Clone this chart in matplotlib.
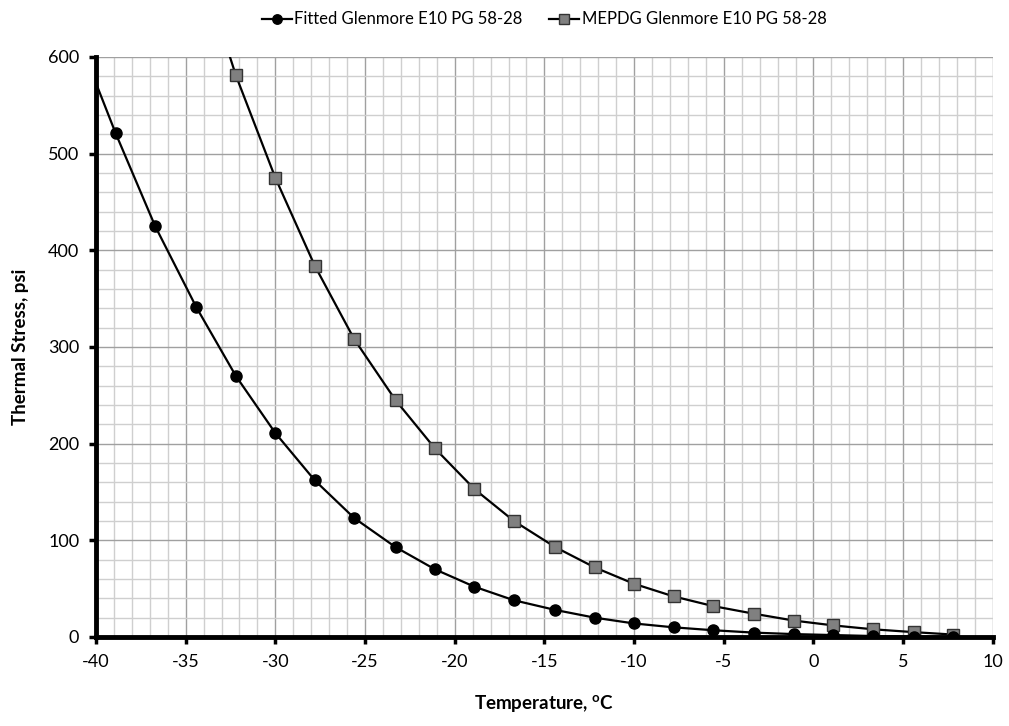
import matplotlib
matplotlib.use("Agg")
import matplotlib.pyplot as plt
from matplotlib.ticker import MultipleLocator

plt.rcParams["font.family"] = ["Lato", "DejaVu Sans"]
plt.rcParams["axes.unicode_minus"] = False

# temperatures (deg C), 4 deg F steps
temp_c = [-41.1, -38.9, -36.7, -34.4, -32.2, -30.0, -27.8, -25.6, -23.3, -21.1, -18.9,
          -16.7, -14.4, -12.2, -10.0, -7.8, -5.6, -3.3, -1.1, 1.1, 3.3, 5.6, 7.8]
fitted_psi = [625, 521, 425, 341, 270, 211, 162, 123, 93, 70, 52,
              38, 28, 20, 14, 10, 7, 4.5, 3, 2, 1, 0.5, 0.2]
mepdg_temp = [-34.4, -32.2, -30.0, -27.8, -25.6, -23.3, -21.1, -18.9, -16.7, -14.4,
              -12.2, -10.0, -7.8, -5.6, -3.3, -1.1, 1.1, 3.3, 5.6, 7.8]
mepdg_psi = [708, 581, 475, 384, 308, 245, 195, 153, 120, 93,
             72, 55, 42, 32, 24, 17, 12, 8, 5, 2.5]

fig = plt.figure(figsize=(10.09, 7.26), dpi=100)
ax = fig.add_axes([0.0951, 0.1226, 0.8889, 0.7989])

ax.plot(temp_c, fitted_psi, color="black", lw=1.6, marker="o", ms=8,
        mfc="black", mec="black", label="Fitted Glenmore E10 PG 58-28", zorder=4)
ax.plot(mepdg_temp, mepdg_psi, color="black", lw=1.6, marker="s", ms=8,
        mfc="#808080", mec="#333333", mew=1.0, label="MEPDG Glenmore E10 PG 58-28", zorder=3)

ax.set_xlim(-40, 10)
ax.set_ylim(0, 600)
ax.xaxis.set_major_locator(MultipleLocator(5))
ax.xaxis.set_minor_locator(MultipleLocator(1))
ax.yaxis.set_major_locator(MultipleLocator(100))
ax.yaxis.set_minor_locator(MultipleLocator(20))
ax.grid(which="major", color="#a0a0a0", lw=1.0)
ax.grid(which="minor", color="#cfcfcf", lw=1.0)
ax.set_axisbelow(True)

for s in ["top", "right"]:
    ax.spines[s].set_visible(False)
for s in ["left", "bottom"]:
    ax.spines[s].set_linewidth(3.5)
    ax.spines[s].set_zorder(5)

ax.tick_params(which="major", direction="out", length=5, width=2.5, labelsize=13, pad=7)
ax.tick_params(which="minor", length=0)

ax.set_xlabel(r"Temperature, $\mathregular{^{o}}$C", fontsize=13.5, fontweight="bold", labelpad=17)
ax.set_ylabel("Thermal Stress, psi", fontsize=13.5, fontweight="bold", labelpad=14)

ax.legend(loc="lower center", bbox_to_anchor=(0.5, 1.025), ncol=2, frameon=False,
          fontsize=12, handlelength=1.8, handletextpad=0.15, columnspacing=1.6,
          markerscale=0.85)

fig.savefig("out.png", dpi=100)
